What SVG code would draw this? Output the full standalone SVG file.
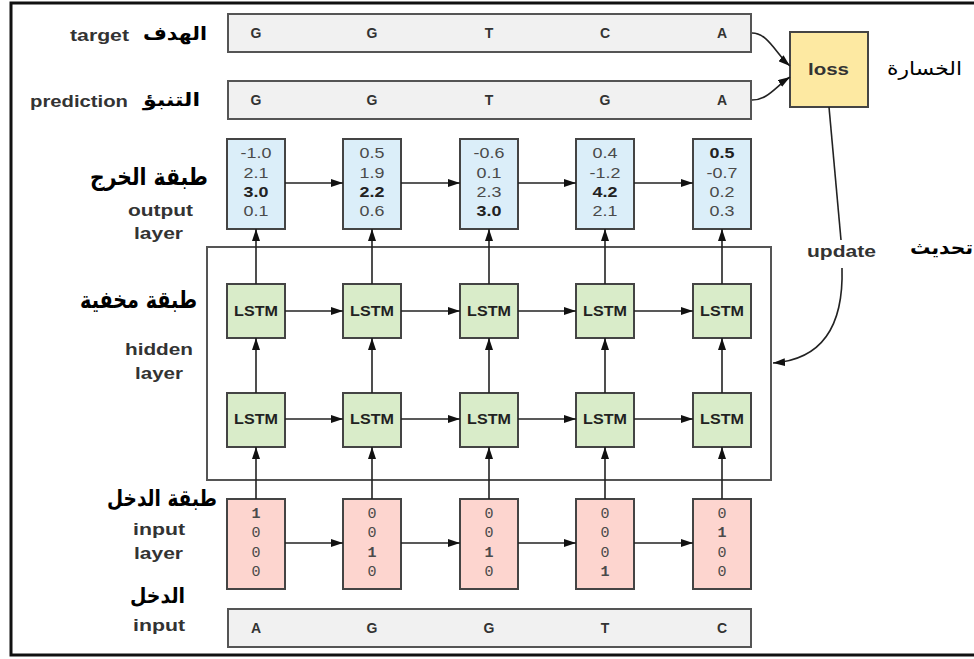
<svg xmlns="http://www.w3.org/2000/svg" width="974" height="659" viewBox="0 0 974 659">
<style>
.lab{font-family:"Liberation Sans",Arial,sans-serif;font-weight:bold;font-size:16px;fill:#333;}
.ar{font-family:"DejaVu Sans",sans-serif;font-weight:bold;fill:#000;}
.num{font-family:"Liberation Sans",Arial,sans-serif;font-size:14px;fill:#4a4a4a;text-anchor:middle;}
.b{font-weight:bold;fill:#222;}
.bit{font-family:"Liberation Mono","DejaVu Sans Mono",monospace;font-size:15px;fill:#4a4a4a;text-anchor:middle;}
.seqt{font-family:"Liberation Sans",Arial,sans-serif;font-weight:bold;font-size:14px;fill:#333;text-anchor:middle;}
.lt{font-family:"Liberation Sans",Arial,sans-serif;font-weight:bold;font-size:14px;fill:#222;text-anchor:middle;}
.seq{fill:#f1f1f1;stroke:#555;stroke-width:2;}
.out{fill:#dbeef9;stroke:#444;stroke-width:2;}
.lstm{fill:#d9ecc9;stroke:#444;stroke-width:2;}
.inp{fill:#fdd5cf;stroke:#444;stroke-width:2;}
.con{stroke:#222;stroke-width:1.6;fill:none;}
</style>
<defs>
<marker id="ah" viewBox="0 0 12 8" refX="12" refY="4" markerWidth="12" markerHeight="8" markerUnits="userSpaceOnUse" orient="auto">
<path d="M0,0 L12,4 L0,8 z" fill="#111"/>
</marker>
</defs>
<rect x="0" y="0" width="974" height="659" fill="#fff"/>
<rect id="frame" x="11" y="3" width="980" height="652" fill="none" stroke="#111" stroke-width="3"/>

<g id="labels">
<text class="lab" x="99.5" y="41" text-anchor="middle" textLength="59" lengthAdjust="spacingAndGlyphs">target</text>
<text class="ar" x="175" y="40" font-size="19" text-anchor="middle" textLength="64" lengthAdjust="spacingAndGlyphs">الهدف</text>
<text class="lab" x="79" y="107" text-anchor="middle" textLength="98" lengthAdjust="spacingAndGlyphs">prediction</text>
<text class="ar" x="171.5" y="106" font-size="19" text-anchor="middle" textLength="57" lengthAdjust="spacingAndGlyphs">التنبؤ</text>
<text class="ar" x="149" y="185" font-size="24" text-anchor="middle" textLength="118" lengthAdjust="spacingAndGlyphs">طبقة الخرج</text>
<text class="lab" x="160.5" y="216" text-anchor="middle" textLength="65" lengthAdjust="spacingAndGlyphs">output</text>
<text class="lab" x="158.5" y="239" text-anchor="middle" textLength="49" lengthAdjust="spacingAndGlyphs">layer</text>
<text class="ar" x="138.5" y="308" font-size="24" text-anchor="middle" textLength="117" lengthAdjust="spacingAndGlyphs">طبقة مخفية</text>
<text class="lab" x="159" y="355" text-anchor="middle" textLength="68" lengthAdjust="spacingAndGlyphs">hidden</text>
<text class="lab" x="159" y="379" text-anchor="middle" textLength="48" lengthAdjust="spacingAndGlyphs">layer</text>
<text class="ar" x="162" y="506" font-size="23" text-anchor="middle" textLength="110" lengthAdjust="spacingAndGlyphs">طبقة الدخل</text>
<text class="lab" x="159" y="535" text-anchor="middle" textLength="52" lengthAdjust="spacingAndGlyphs">input</text>
<text class="lab" x="158.5" y="559" text-anchor="middle" textLength="49" lengthAdjust="spacingAndGlyphs">layer</text>
<text class="ar" x="157.5" y="603" font-size="21" text-anchor="middle" textLength="55" lengthAdjust="spacingAndGlyphs">الدخل</text>
<text class="lab" x="159" y="631" text-anchor="middle" textLength="52" lengthAdjust="spacingAndGlyphs">input</text>
<text class="ar" x="924.5" y="75" font-size="19" style="font-weight:normal" text-anchor="middle" textLength="75" lengthAdjust="spacingAndGlyphs">الخسارة</text>
<text class="ar" x="941.5" y="254" font-size="19" text-anchor="middle" textLength="63" lengthAdjust="spacingAndGlyphs">تحديث</text>
<text class="lab" x="841.5" y="257" text-anchor="middle" textLength="69" lengthAdjust="spacingAndGlyphs">update</text>
</g>

<g id="target">
<rect class="seq" x="228" y="14" width="523" height="38"/>
<text class="seqt" x="256" y="38">G</text>
<text class="seqt" x="372" y="38">G</text>
<text class="seqt" x="489" y="38">T</text>
<text class="seqt" x="605" y="38">C</text>
<text class="seqt" x="722" y="38">A</text>
</g>
<g id="prediction">
<rect class="seq" x="228" y="81" width="523" height="38"/>
<text class="seqt" x="256" y="105">G</text>
<text class="seqt" x="372" y="105">G</text>
<text class="seqt" x="489" y="105">T</text>
<text class="seqt" x="605" y="105">G</text>
<text class="seqt" x="722" y="105">A</text>
</g>
<g id="loss">
<rect x="790" y="32" width="78" height="75" fill="#fde9a2" stroke="#444" stroke-width="2"/>
<text class="lab" x="828.5" y="75" font-size="19" fill="#222" text-anchor="middle" textLength="41" lengthAdjust="spacingAndGlyphs">loss</text>
</g>

<g id="hidden-layer">
<rect x="207" y="247" width="564" height="233" fill="none" stroke="#555" stroke-width="2"/>
</g>

<g id="output-1">
<rect class="out" x="227" y="139" width="58" height="90"/>
<text class="num" transform="translate(256,158) scale(1.28,1)">-1.0</text>
<text class="num" transform="translate(256,178) scale(1.28,1)">2.1</text>
<text class="num b" transform="translate(256,197) scale(1.28,1)">3.0</text>
<text class="num" transform="translate(256,216) scale(1.28,1)">0.1</text>
</g>
<g id="output-2">
<rect class="out" x="343" y="139" width="58" height="90"/>
<text class="num" transform="translate(372,158) scale(1.28,1)">0.5</text>
<text class="num" transform="translate(372,178) scale(1.28,1)">1.9</text>
<text class="num b" transform="translate(372,197) scale(1.28,1)">2.2</text>
<text class="num" transform="translate(372,216) scale(1.28,1)">0.6</text>
</g>
<g id="output-3">
<rect class="out" x="460" y="139" width="58" height="90"/>
<text class="num" transform="translate(489,158) scale(1.28,1)">-0.6</text>
<text class="num" transform="translate(489,178) scale(1.28,1)">0.1</text>
<text class="num" transform="translate(489,197) scale(1.28,1)">2.3</text>
<text class="num b" transform="translate(489,216) scale(1.28,1)">3.0</text>
</g>
<g id="output-4">
<rect class="out" x="576" y="139" width="58" height="90"/>
<text class="num" transform="translate(605,158) scale(1.28,1)">0.4</text>
<text class="num" transform="translate(605,178) scale(1.28,1)">-1.2</text>
<text class="num b" transform="translate(605,197) scale(1.28,1)">4.2</text>
<text class="num" transform="translate(605,216) scale(1.28,1)">2.1</text>
</g>
<g id="output-5">
<rect class="out" x="693" y="139" width="58" height="90"/>
<text class="num b" transform="translate(722,158) scale(1.28,1)">0.5</text>
<text class="num" transform="translate(722,178) scale(1.28,1)">-0.7</text>
<text class="num" transform="translate(722,197) scale(1.28,1)">0.2</text>
<text class="num" transform="translate(722,216) scale(1.28,1)">0.3</text>
</g>

<g id="lstm-1-1"><rect class="lstm" x="227" y="284" width="58" height="54"/><text class="lt" transform="translate(256,316) scale(1.15,1)">LSTM</text></g>
<g id="lstm-1-2"><rect class="lstm" x="343" y="284" width="58" height="54"/><text class="lt" transform="translate(372,316) scale(1.15,1)">LSTM</text></g>
<g id="lstm-1-3"><rect class="lstm" x="460" y="284" width="58" height="54"/><text class="lt" transform="translate(489,316) scale(1.15,1)">LSTM</text></g>
<g id="lstm-1-4"><rect class="lstm" x="576" y="284" width="58" height="54"/><text class="lt" transform="translate(605,316) scale(1.15,1)">LSTM</text></g>
<g id="lstm-1-5"><rect class="lstm" x="693" y="284" width="58" height="54"/><text class="lt" transform="translate(722,316) scale(1.15,1)">LSTM</text></g>
<g id="lstm-2-1"><rect class="lstm" x="227" y="393" width="58" height="54"/><text class="lt" transform="translate(256,424) scale(1.15,1)">LSTM</text></g>
<g id="lstm-2-2"><rect class="lstm" x="343" y="393" width="58" height="54"/><text class="lt" transform="translate(372,424) scale(1.15,1)">LSTM</text></g>
<g id="lstm-2-3"><rect class="lstm" x="460" y="393" width="58" height="54"/><text class="lt" transform="translate(489,424) scale(1.15,1)">LSTM</text></g>
<g id="lstm-2-4"><rect class="lstm" x="576" y="393" width="58" height="54"/><text class="lt" transform="translate(605,424) scale(1.15,1)">LSTM</text></g>
<g id="lstm-2-5"><rect class="lstm" x="693" y="393" width="58" height="54"/><text class="lt" transform="translate(722,424) scale(1.15,1)">LSTM</text></g>

<g id="input-1">
<rect class="inp" x="227" y="499" width="58" height="90"/>
<text class="bit b" x="256" y="518">1</text><text class="bit" x="256" y="537">0</text><text class="bit" x="256" y="557">0</text><text class="bit" x="256" y="576">0</text>
</g>
<g id="input-2">
<rect class="inp" x="343" y="499" width="58" height="90"/>
<text class="bit" x="372" y="518">0</text><text class="bit" x="372" y="537">0</text><text class="bit b" x="372" y="557">1</text><text class="bit" x="372" y="576">0</text>
</g>
<g id="input-3">
<rect class="inp" x="460" y="499" width="58" height="90"/>
<text class="bit" x="489" y="518">0</text><text class="bit" x="489" y="537">0</text><text class="bit b" x="489" y="557">1</text><text class="bit" x="489" y="576">0</text>
</g>
<g id="input-4">
<rect class="inp" x="576" y="499" width="58" height="90"/>
<text class="bit" x="605" y="518">0</text><text class="bit" x="605" y="537">0</text><text class="bit" x="605" y="557">0</text><text class="bit b" x="605" y="576">1</text>
</g>
<g id="input-5">
<rect class="inp" x="693" y="499" width="58" height="90"/>
<text class="bit" x="722" y="518">0</text><text class="bit b" x="722" y="537">1</text><text class="bit" x="722" y="557">0</text><text class="bit" x="722" y="576">0</text>
</g>

<g id="input-seq">
<rect class="seq" x="228" y="609" width="523" height="38"/>
<text class="seqt" x="256" y="633">A</text>
<text class="seqt" x="372" y="633">G</text>
<text class="seqt" x="489" y="633">G</text>
<text class="seqt" x="605" y="633">T</text>
<text class="seqt" x="722" y="633">C</text>
</g>

<g id="connectors" class="con" marker-end="url(#ah)">
<path d="M285,183 H343"/><path d="M401,183 H460"/><path d="M518,183 H576"/><path d="M634,183 H693"/>
<path d="M285,311 H343"/><path d="M401,311 H460"/><path d="M518,311 H576"/><path d="M634,311 H693"/>
<path d="M285,419 H343"/><path d="M401,419 H460"/><path d="M518,419 H576"/><path d="M634,419 H693"/>
<path d="M285,543 H343"/><path d="M401,543 H460"/><path d="M518,543 H576"/><path d="M634,543 H693"/>
<path d="M256,499 V447"/><path d="M372,499 V447"/><path d="M489,499 V447"/><path d="M605,499 V447"/><path d="M722,499 V447"/>
<path d="M256,393 V338"/><path d="M372,393 V338"/><path d="M489,393 V338"/><path d="M605,393 V338"/><path d="M722,393 V338"/>
<path d="M256,284 V229"/><path d="M372,284 V229"/><path d="M489,284 V229"/><path d="M605,284 V229"/><path d="M722,284 V229"/>
<path d="M752,33 C768,33 776,54 790,66"/>
<path d="M752,100 C768,100 776,86 790,77"/>
<path d="M829,107 L841,240" marker-end="none"/>
<path d="M842,268 C844,335 815,360 773,363"/>
</g>
</svg>
